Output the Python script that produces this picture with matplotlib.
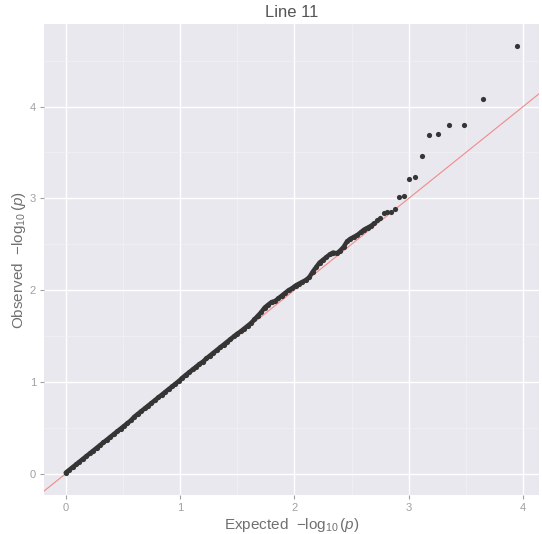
import matplotlib
matplotlib.use("Agg")
import matplotlib.pyplot as plt
from matplotlib.ticker import MultipleLocator

plt.rcParams['font.family'] = ['Liberation Sans', 'DejaVu Sans']
plt.rcParams['mathtext.fontset'] = 'custom'
plt.rcParams['mathtext.rm'] = 'Liberation Sans'
plt.rcParams['mathtext.it'] = 'Liberation Sans:italic'

# QQ plot values (expected vs observed -log10 p)
bulk_expected = [0.00, 0.03, 0.06, 0.09, 0.12, 0.15, 0.18, 0.21, 0.24, 0.27,
                 0.30, 0.33, 0.36, 0.39, 0.42, 0.45, 0.48, 0.51, 0.54, 0.57,
                 0.60, 0.63, 0.66, 0.69, 0.72, 0.75, 0.78, 0.81, 0.84, 0.87,
                 0.90, 0.93, 0.96, 0.99, 1.02, 1.05, 1.08, 1.11, 1.14, 1.17,
                 1.20, 1.23, 1.26, 1.29, 1.32, 1.35, 1.38, 1.41, 1.44, 1.47,
                 1.50, 1.53, 1.56, 1.59, 1.62, 1.65, 1.68, 1.71, 1.74, 1.77,
                 1.80, 1.83, 1.86, 1.89, 1.92, 1.95, 1.98, 2.01, 2.04, 2.07,
                 2.10, 2.13, 2.16, 2.19, 2.22, 2.25, 2.28, 2.31, 2.34, 2.37,
                 2.40, 2.43, 2.46, 2.49, 2.52, 2.55, 2.58, 2.61, 2.64, 2.67, 2.70]
bulk_observed = [0.01, 0.04, 0.07, 0.10, 0.13, 0.16, 0.19, 0.22, 0.25, 0.28,
                 0.31, 0.34, 0.37, 0.40, 0.43, 0.46, 0.49, 0.52, 0.55, 0.58,
                 0.62, 0.65, 0.68, 0.71, 0.74, 0.77, 0.80, 0.83, 0.86, 0.89,
                 0.92, 0.95, 0.98, 1.01, 1.045, 1.075, 1.105, 1.135, 1.165, 1.195,
                 1.22, 1.255, 1.285, 1.315, 1.345, 1.375, 1.405, 1.435, 1.465, 1.495,
                 1.525, 1.55, 1.58, 1.61, 1.64, 1.68, 1.72, 1.76, 1.81, 1.84,
                 1.87, 1.88, 1.91, 1.94, 1.97, 2.00, 2.02, 2.05, 2.07, 2.09,
                 2.11, 2.14, 2.20, 2.25, 2.30, 2.33, 2.36, 2.39, 2.41, 2.40,
                 2.43, 2.47, 2.53, 2.56, 2.58, 2.60, 2.63, 2.66, 2.68, 2.70, 2.73]

tail_expected = [2.72, 2.75, 2.78, 2.81, 2.843, 2.883, 2.919, 2.961, 3.006,
                 3.054, 3.112, 3.178, 3.257, 3.351, 3.483, 3.653, 3.949]
tail_observed = [2.76, 2.79, 2.84, 2.85, 2.85, 2.884, 3.012, 3.027, 3.216,
                 3.235, 3.461, 3.687, 3.702, 3.797, 3.804, 4.083, 4.663]

fig = plt.figure(figsize=(5.42, 5.34), dpi=100)
ax = fig.add_axes([0.0816, 0.073, 0.913, 0.882])
ax.set_facecolor('#E9E8EE')

ax.axline((0, 0), slope=1, color='#F08A8A', linewidth=0.8, zorder=2)
# the bulk points overlap into one dense band
ax.plot(bulk_expected, bulk_observed, '-', color='#353535', linewidth=3.2,
        solid_capstyle='round', zorder=3)
ax.scatter(bulk_expected, bulk_observed, s=14, color='#353535', linewidths=0, zorder=3)
ax.scatter(tail_expected, tail_observed, s=14, color='#353535', linewidths=0, zorder=3)

ax.set_xlim(-0.188, 4.14)
ax.set_ylim(-0.233, 4.90)
ax.xaxis.set_major_locator(MultipleLocator(1))
ax.yaxis.set_major_locator(MultipleLocator(1))
ax.xaxis.set_minor_locator(MultipleLocator(0.5))
ax.yaxis.set_minor_locator(MultipleLocator(0.5))
ax.grid(which='major', color='white', linewidth=1.0, zorder=0)
ax.grid(which='minor', color='#F3F2F6', linewidth=0.5, zorder=0)
ax.set_axisbelow(True)
for s in ax.spines.values():
    s.set_visible(False)
ax.tick_params(which='major', length=3, color='#A0A0A0', labelcolor='#A0A0A0',
               labelsize=8, pad=3)
ax.tick_params(which='minor', length=0)

ax.set_xlabel(r'Expected  $-\log_{10}(p)$', fontsize=11, color='#707070', labelpad=2)
ax.set_ylabel(r'Observed  $-\log_{10}(p)$', fontsize=11, color='#707070', labelpad=1)
ax.set_title('Line 11', fontsize=12, color='#555555', pad=5)

fig.savefig('out.png', dpi=100)
